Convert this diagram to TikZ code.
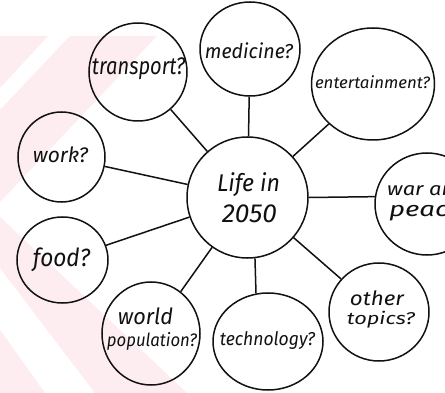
\documentclass[tikz,border=0pt]{standalone}
\usepackage{fontspec}
\setmainfont{Fira Sans}
\usetikzlibrary{shapes.geometric}
\definecolor{wm}{RGB}{253,237,240}
\definecolor{ink}{RGB}{17,17,17}
\newcommand{\hw}[3]{\resizebox*{#1pt}{#2pt}{\itshape #3}}
\tikzset{
  bubble/.style={ellipse, draw=ink, line width=1.5pt, inner sep=0pt},
  link/.style={draw=ink, line width=1.5pt},
  lbl/.style={inner sep=0pt, text=ink}
}
\begin{document}
\begin{tikzpicture}[x=1pt,y=-1pt]
\useasboundingbox (0,0) rectangle (445,393);
\clip (0,0) rectangle (445,393);
\fill[white] (0,0) rectangle (445,393);
% faint watermark
\fill[wm] (0,36) -- (48,36) -- (0,88) -- cycle;
\fill[wm] (70,36) -- (157,36) -- (0,202) -- (0,110) -- cycle;
\fill[wm] (0,217) -- (187,393) -- (95,393) -- (0,268) -- cycle;
\fill[wm] (0,330) -- (45,393) -- (0,393) -- cycle;
% bubbles
\node[bubble, minimum width=121pt, minimum height=121pt] (c) at (247.5,197.5) {};
\node[bubble, minimum width=98pt, minimum height=98pt] (tr) at (138,72) {};
\node[bubble, minimum width=100pt, minimum height=94pt] (me) at (250,49) {};
\node[bubble, minimum width=123pt, minimum height=112pt] (en) at (373,84) {};
\node[bubble, minimum width=104pt, minimum height=102pt] (wa) at (427,204) {};
\node[bubble, minimum width=87pt, minimum height=90pt] (wo) at (61.5,157) {};
\node[bubble, minimum width=91pt, minimum height=86pt] (fo) at (62.5,260) {};
\node[bubble, minimum width=98pt, minimum height=103pt] (wp) at (151,333.5) {};
\node[bubble, minimum width=110pt, minimum height=97pt] (te) at (268,341.5) {};
\node[bubble, minimum width=100pt, minimum height=98pt] (ot) at (379,312) {};
% connectors
\draw[link] (c) -- (tr);
\draw[link] (c) -- (me);
\draw[link] (c) -- (en);
\draw[link] (c.east) -- (wa.172);
\draw[link] (c) -- (ot);
\draw[link] (c.-83) -- (te.104);
\draw[link] (c) -- (wp);
\draw[link] (c) -- (fo);
\draw[link] (c) -- (wo);
% texts
\node[lbl] (tLife) at (248.5,185) {\hw{63}{24}{Life in}};
\node[lbl] (tYear) at (249.5,214) {\hw{55}{18}{2050}};
\node[lbl] (tTr) at (138.5,69) {\hw{93}{22}{transport?}};
\node[lbl] (tMe) at (249,50.5) {\hw{88}{16}{medicine?}};
\node[lbl] (tEn) at (372.5,82.5) {\hw{115}{13}{entertainment?}};
\node[lbl] (tWo) at (60.5,155) {\hw{55}{16}{work?}};
\node[lbl] (tFo) at (61.5,260) {\hw{57}{24}{food?}};
\node[lbl] (tWp1) at (145.5,316.5) {\hw{55}{17}{world}};
\node[lbl] (tWp2) at (152,341) {\hw{90}{18}{population?}};
\node[lbl] (tTe) at (267.5,341) {\hw{95}{18}{technology?}};
\node[lbl] (tOt1) at (377,298.5) {\hw{54}{15}{other}};
\node[lbl] (tOt2) at (381,319.5) {\hw{68}{17}{topics?}};
\node[lbl, anchor=base west] (tWa1) at (387,196) {\hw{80}{14}{war and}};
\node[lbl, anchor=base west] (tWa2) at (389,217) {\hw{84}{19}{peace?}};
\end{tikzpicture}
\end{document}
